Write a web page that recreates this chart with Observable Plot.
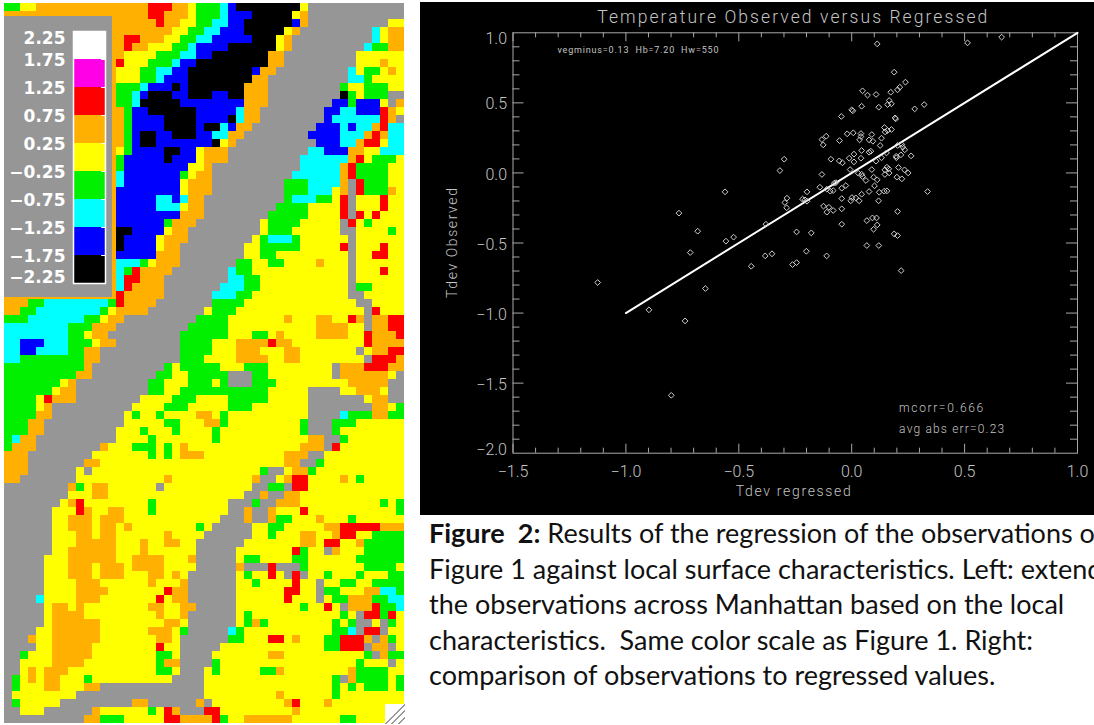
<!DOCTYPE html>
<html>
<head>
<meta charset="utf-8">
<script src="https://cdn.jsdelivr.net/npm/d3@7"></script>
<script src="https://cdn.jsdelivr.net/npm/@observablehq/plot@0.6"></script>
<style>
html,body{margin:0;padding:0;background:#fff;width:1094px;height:725px;overflow:hidden;position:relative}
.abs{position:absolute;display:block}
#caption{position:absolute;left:429px;top:515px;width:665px;overflow:hidden;font-family:Lato,"Open Sans",sans-serif;font-size:27px;line-height:35.5px;color:#111;white-space:pre}
#grip{position:absolute;left:385px;top:704px;width:20px;height:20px;background:linear-gradient(135deg,#fff 48%,#999 48% 53%,#fff 53% 64%,#999 64% 69%,#fff 69% 80%,#999 80% 85%,#fff 85%)}
</style>
</head>
<body>
<div id="map" class="abs" style="left:4px;top:3px"></div>
<div id="grip"></div>
<div id="legend" class="abs" style="left:4px;top:16px"></div>
<div id="scatter" class="abs" style="left:420px;top:2px"></div>
<div id="caption"></div>
<script>
// ---- Map raster: run-length rows of temperature-deviation classes ----
const mapRows = [
"n2y2o14r3o2y1n3c1b1k8y1g12","o18r2o3y1n3c1b3k5y1o1g12","o19r1o2y2n2c2b2k6b1o1g10y2","o21y2n2c2b3k5y1o1g9c1y1o2",
"o15r2o3y2n2c2b5k3y1o1g10c1y1o2","o15r1o2y3n2c1b4k6y1o1g9c1n2o2","o15y4n3c2b2k7o2g9y6","o14r1y3n3c1b2k9o2g9y3o1y2",
"o14y3n2c2b2k8b1o2g9c1y1n2y1o1y1","o14y3n2c1b3k8o2g10c2n1y4","o14n3c1b3k1b1k7o3g9n1y2n3y2","o14n2c1b1k3b2k3b2k2o3g9k1n1y1n3g2",
"o14n2c1k5b8o3g8b2n1b3y1g1o1","o15n1b2k6b5c1o2g8b2c2b3r1o1y1","o15n1b4k4b4k1c1o2g8b1c6r1o1g1","o15n1b4k4b1k2c1b1o2g8b3c1b1c2o1r1c2",
"o15n1b1k2b2k3b2c2o2g8b4c3o1r1o1c2","o15n1b1k2b7k1y1o1g10b3c2o1r2y1c2","o14y1n1b4k2b2y1o3g10c2b3o2y2c3","o14n1b5k1b3y1o3g9c6o1r1y1n3y1",
"o14n1b8y2o1g11c5o1r1n4y2","o14c1b7n1y1o2g10c6o1r1n4y2","o14c1b7y1o3g9n3c4o1g1r1n3y2","o14b8y1o3g9n3c3y1o1g1r1n3o1y1",
"o14b5c2b1c1o2g10n1c3n2y1r1g1y3r1y2","o14b5c3y1o2g9n4y4r1g1y3r1y2","o14b8o3g8n5y4r1g1r1y1r1y3","o14b6n1o3g8y1n4y5g1r1y1n1y4",
"o14k2b4y1o2g9y1n3y6g2y4n1y1","o14k1b4y1o3g8y1n1c3n1y6g1y6","o14k1b4y1o2g8y2n5y5r1g1y3r1y2","o14b5o3g8y2n2y9g1y2r2y2",
"o14c3n1y1o3g7n2y2n2y4o1y3g1y6","o14c1n1r1o4g7c1n2y12g1y3r1y2","o14c1r2o3g8c2n2y11g1y6","o14c1r1o4g7c3n2y11g1n2y4",
"o14r1o5g6c3n2y12g2y5","o3n2c8n1r1o4g7n4y14g2y4","o2n2c8n1y1o4g7y1n3y16g1r1y3","n3c7n2y1o2g9n4y7o1y3o2y2r1o1g1o2r2",
"c8n3o3g9n5y11o4y2g1o2r2","c8n2y1o2g9n6y3n2y1o1y4o4y2r1o3r1","c2b3c3n3y1o2g8n4y3o4r1o2y7y2r1o4","c2b2c4n2o2g10n4y3o3y3o2y7g1y1o2r2",
"c2n8o2g10n3y4o4y2o2y8g1r3o1",
"n10o1g9n1y1n5y3n3y8g1o3r3o2","n9o2g8n2y2n5g3n2y8g1o6y1g1","n7y1o1g9n2y3n3y1n1g3n3y9o5g2","n6y1o2g9n2y2n11y5g4y2o3y1g2",
"n4y1r1o3g8y4n3y4n5y5g7y1o2g2","n4y1o1g10y4n3y5n3y7g8o2y1n1","n4o2g9y1n1y2n1y4o2y1n1y10g4c1n3o2n2","n3o2g10y5n2y3o2n1y9n1g3n3y6",
"n3o2g9y3n1y3n1y4n1y10n1g3n1y8","n1c1o2g10y4n1y7n1y11o2g2n1y7","n1o3g8o1y3n3y1n1y1o1y14o3g1r1y8","o3g8y7n1y1n1y1o3y10o3g2y10",
"o3g7o2y23o2g2n1y10","o3g6y1g1y21n1g2y1o2n1y11","o2g7y11o1y10o1g2y1o1r2y4o1y1n1y5","g8o1n1y1o2y6g1y11g2n2g1r2y12",
"g8y3o2y17g2o1g2o2y13","g7y1o1r1y8n1y9g3n1g2o3y10n1y1n1","g6y3r1o1y2o2y3n1y9g2o1g2o1y3r1y11n1","g6y2o3y1o3y12g3o1g2o1n2y3o1y3n1y6",
"g6y2o3y1o2y1o1y8n1y1g5y2n2y5o2r5o3","g6y3o2y1o2y6o1y4g6y2n1y3o2y2o1r2y2n4","g6y3o5y3o1y2o2y2g6y7o2y1r2y2o1n5","g6y2o6y3o1y6g5y7r1n1y2g1o1y3n5",
"g5y3o6y2o4y3o1g5y1n2y4n2y6n6","g5y3o3y1o3y1o4y4g5o1g3r1g3n1y6y1n4y1","g5y3o3y1o3y3o2y1o1y1g6y1n1y2r1y1g1r1g1y2n1y3n1y3n2","g5y4o3y6o1y3o1g6y2n1y4r1y2g1y2n2y2n4",
"g5y4o4y7r1o2g6y6r2y2g1n2y3o2c2n1","g4c1y4o3y7r1y1o2g6y6r1y3g1y1n2o3n2c2","g5y1o2y1o1y8o2y2o2g5y8n1y2r1y1g1o3r1n2c1","g5y1o4y9o1y2o1g6y1n1y11n1y1g1r2n1r1y1",
"g5y1o6y8o2y1g6y1n1o1n1y8n1y1n1g2y1g1n1y1","g4y2o6y6o3y1n1g5c1n1y11n2c1g1r2g1y2","g3o1y2o6y7o2y1g6n2y3r2y1o1y3n2r3o1g1o1n1y1","g4y2o5y8r1y2g5y13n2r3g1o2g1y1",
"g2n1y3o5y8n2y1g4y7o2y10n1g1o1n2","g2y4o4y9n1o2g4n1y17n1y3g1y1","g2y1o1y1o3y11n2y1g3y1n1y5n2o1y8o1n4y2","g1n1y1o1y1o2y3n1y10g4y16n1g1o1n4y1n1",
"g1n1y3o2y3o2g13y16n1y1n1y1n3y1n1","g1y8g16y9o1y6n1y8","g1n1y5g9o2g6o1g1y9o1r1y3o1y9","g2y3g6o1y6n1y1r1o1g3r2y9o1y11w2",
"g10o2n3y5r2o4r1n1y2o6y6n2y4w2"
];
const classCodes  = ["k","b","c","n","y","o","r","g","w"];
const classColors = ["#000000","#0000ff","#00ffff","#00f000","#ffff00","#ffb000","#ff0000","#969696","#ffffff"];

// ---- Legend ----
const legendBreaks = [2.25,1.75,1.25,0.75,0.25,-0.25,-0.75,-1.25,-1.75,-2.25];
const legendColors = ["#ffffff","#ff00e6","#ff0000","#ffb000","#ffff00","#00f000","#00ffff","#0000ff","#000000"];

// ---- Scatter: Tdev regressed / Tdev observed ----
const tdevRegressed = [.113,.513,.664,.188,.238,.213,.203,.173,.048,.07,.108,.176,.159,.166,.279,.321,.044,.12,0,.005,-.046,.192,.195,.145,.176,.148,.159,-.02,.007,.041,.089,-.113,-.132,-.126,-.054,.035,.077,.094,.132,.041,.126,.203,.222,.235,.226,.044,.077,.085,.154,.218,.263,.197,.198,-.299,-.092,-.055,-.041,-.011,.01,.01,.041,.108,.132,-.318,-.132,-.007,.089,.156,.164,.147,.166,.207,.234,.25,.2,.222,.029,.044,.048,.063,.097,.113,.147,-.141,-.07,-.077,-.11,-.095,-.082,-.044,-.026,.101,.077,-.198,-.287,-.296,-.288,-.218,-.207,-.198,.122,.144,.156,.336,.044,.018,.001,-.004,-.044,.033,.119,-.125,-.101,-.082,-.11,-.044,.203,-.38,-.044,.067,.092,.11,.113,.097,-.244,-.179,.188,.203,.067,.12,-.201,-.383,-.353,-.111,-.262,-.244,.219,-.561,-.765,-.682,-.557,-.523,-.715,-1.125,-.898,-.738,-.648,-.445,-.799];
const tdevObserved  = [.921,.928,.969,.719,.648,.612,.593,.576,.586,.555,.56,.493,.488,.517,.457,.488,.476,.469,.45,.443,.403,.393,.386,.324,.31,.293,.303,.279,.286,.281,.274,.262,.238,.2,.231,.236,.236,.226,.248,.26,.196,.196,.203,.165,.184,.16,.148,.155,.143,.129,.122,.119,.108,.098,.098,.086,.072,.105,.134,.079,.105,.084,.108,.017,-.011,.024,.024,.041,.029,.022,0,.039,.022,0,-.03,-.042,-.002,-.009,-.026,-.054,-.03,-.049,-.011,-.102,-.069,-.073,-.116,-.13,-.126,-.109,-.09,-.092,-.133,-.135,-.18,-.211,-.249,-.187,-.192,-.202,-.138,-.13,-.128,-.133,-.152,-.178,-.176,-.199,-.183,-.199,-.199,-.237,-.245,-.268,-.28,-.256,-.275,-.366,-.366,-.34,-.321,-.321,-.371,-.402,-.421,-.428,-.435,-.447,-.518,-.518,-.559,-.592,-.577,-.592,-.654,-.64,-.697,-.135,-.287,-.416,-.487,-.458,-.568,-.782,-.977,-1.056,-.825,-.666,-1.587];
const fitLine = [-1, 1];
const xMajor = [-1.5,-1,-0.5,0,0.5,1];
const xMinor = [-1.4,-1.3,-1.2,-1.1,-0.9,-0.8,-0.7,-0.6,-0.4,-0.3,-0.2,-0.1,0.1,0.2,0.3,0.4,0.6,0.7,0.8,0.9];
const yMajor = [-1.5,-1,-0.5,0,0.5];
const yMinor = [-1.9,-1.8,-1.7,-1.6,-1.4,-1.3,-1.2,-1.1,-0.9,-0.8,-0.7,-0.6,-0.4,-0.3,-0.2,-0.1,0.1,0.2,0.3,0.4,0.6,0.7,0.8,0.9];
const captionLines = [
 ["Figure  2:"," Results of the regression of the observations of"],
 ["","Figure 1 against local surface characteristics. Left: extended"],
 ["","the observations across Manhattan based on the local"],
 ["","characteristics.  Same color scale as Figure 1. Right:"],
 ["","comparison of observations to regressed values."]
];

// ---- Decode the rows into cells ----
const cells = [];
mapRows.forEach((r, row) => {
  let col = 0;
  for (const m of r.matchAll(/([a-z])(\d+)/g)) {
    for (let k = 0; k < +m[2]; k++) cells.push({col: col++, row, cls: m[1]});
  }
});

// ---- Map ----
document.getElementById("map").append(Plot.plot({
  width: 400, height: 720, margin: 0,
  x: {type: "band", domain: d3.range(50), padding: 0, axis: null, round: false},
  y: {type: "band", domain: d3.range(90), padding: 0, axis: null, round: false},
  color: {type: "ordinal", domain: classCodes, range: classColors},
  marks: [Plot.cell(cells, {x: "col", y: "row", fill: "cls", shapeRendering: "crispEdges"})]
}));

// ---- Legend panel ----
const segs = legendColors.map((c, i) => ({y1: legendBreaks[i+1], y2: legendBreaks[i], c}));
const lf = {fontFamily: "DejaVu Sans", fontSize: 17, fill: "#fff", textAnchor: "end", fontWeight: 700};
const lmid = legendBreaks.slice(1, 9);
const fmtL = d => (d < 0 ? "\u2212" : "") + Math.abs(d).toFixed(2);
document.getElementById("legend").append(Plot.plot({
  width: 108, height: 281, marginTop: 15, marginBottom: 14, marginLeft: 69, marginRight: 7,
  style: {background: "#969696", overflow: "visible"},
  x: {domain: [0, 1], axis: null},
  y: {domain: [-2.25, 2.25], axis: null},
  marks: [
    Plot.rect(segs, {x1: 0, x2: 1, y1: "y1", y2: "y2", fill: d => d.c}),
    Plot.ruleY(lmid, {y: d => d, x1: 0.88, x2: 1, stroke: "#fff"}),
    Plot.frame({stroke: "#fff", strokeWidth: 1.5}),
    Plot.text(lmid, {x: 0, y: d => d, text: fmtL, dx: -8, dy: 1.5, ...lf}),
    Plot.text([2.25], {x: 0, y: d => d, text: fmtL, dx: -8, dy: 7, ...lf}),
    Plot.text([-2.25], {x: 0, y: d => d, text: fmtL, dx: -8, dy: -6, ...lf})
  ]
}));

// ---- Scatter ----
const fg = "#c4c4c4", axisC = "#a8a8a8";
const font = {fontFamily: "Roboto", fontWeight: 300, fill: fg};
const fmt1 = d => (d < 0 ? "\u2212" : "") + Math.abs(d).toFixed(1);
const pts = tdevRegressed.map((x, i) => ({x, y: tdevObserved[i]}));
const xt = (vals, len) => [
  Plot.ruleX(vals, {x: d => d, y1: -2, y2: -2 + len / 140.1, stroke: axisC}),
  Plot.ruleX(vals, {x: d => d, y1: 1, y2: 1 - len / 140.1, stroke: axisC})
];
const yt = (vals, len) => [
  Plot.ruleY(vals, {y: d => d, x1: -1.5, x2: -1.5 + len / 226, stroke: axisC}),
  Plot.ruleY(vals, {y: d => d, x1: 1, x2: 1 - len / 226, stroke: axisC})
];
const ylab = (vals, dy) => Plot.text(vals, {x: -1.5, y: d => d, text: fmt1, dx: -6, dy, textAnchor: "end", fontSize: 16, ...font});
const plotS = Plot.plot({
  width: 674, height: 513, marginLeft: 92.5, marginRight: 17, marginTop: 30.3, marginBottom: 62.3,
  style: {background: "#000"},
  x: {domain: [-1.5, 1], axis: null},
  y: {domain: [-2, 1], axis: null},
  marks: [
    Plot.frame({stroke: axisC}),
    ...xt(xMinor, 5), ...xt(xMajor, 9), ...yt(yMinor, 7), ...yt(yMajor, 11),
    Plot.line(fitLine.map(v => ({x: v, y: v})), {x: "x", y: "y", stroke: "#fff", strokeWidth: 2}),
    Plot.dot(pts, {x: "x", y: "y", symbol: "diamond2", r: 2.6, stroke: "#d0d0d0", strokeWidth: 1, fill: "none"}),
    Plot.text(xMajor, {x: d => d, y: -2, text: fmt1, dy: 18.5, fontSize: 16, ...font}),
    ylab([-1.5,-1,-0.5,0,0.5], 1.5), ylab([1], 6), ylab([-2], -3.7),
    Plot.text(["Temperature Observed versus Regressed"], {x: -0.25, y: 1, dx: -3, dy: -15.5, fontSize: 17.5, ...font}),
    Plot.text(["Tdev regressed"], {x: -0.25, y: -2, dx: -2, dy: 38, fontSize: 14, ...font}),
    Plot.text(["Tdev Observed"], {x: -1.5, y: -0.5, dx: -60, dy: 0, rotate: -90, fontSize: 14, ...font}),
    Plot.text(["vegminus=0.13  Hb=7.20  Hw=550"], {x: -1.303, y: 0.874, textAnchor: "start", fontSize: 9, ...font, fontWeight: 400}),
    Plot.text(["mcorr=0.666"], {x: 0.21, y: -1.68, textAnchor: "start", fontSize: 12, ...font}),
    Plot.text(["avg abs err=0.23"], {x: 0.21, y: -1.83, textAnchor: "start", fontSize: 12, ...font})
  ]
});
const fitWidths = {
  "Temperature Observed versus Regressed": 390,
  "Tdev regressed": 115,
  "Tdev Observed": 110,
  "vegminus=0.13  Hb=7.20  Hw=550": 161,
  "mcorr=0.666": 84,
  "avg abs err=0.23": 105
};
plotS.querySelectorAll("text").forEach(t => {
  const w = fitWidths[t.textContent];
  if (w) t.setAttribute("textLength", w);
  t.style.whiteSpace = "pre";
});
document.getElementById("scatter").append(plotS);

// ---- Caption ----
const cap = document.getElementById("caption");
captionLines.forEach(([b, t]) => {
  const d = document.createElement("div");
  if (b) { const s = document.createElement("b"); s.textContent = b; d.append(s); }
  d.append(t);
  cap.append(d);
});
</script>
</body>
</html>
